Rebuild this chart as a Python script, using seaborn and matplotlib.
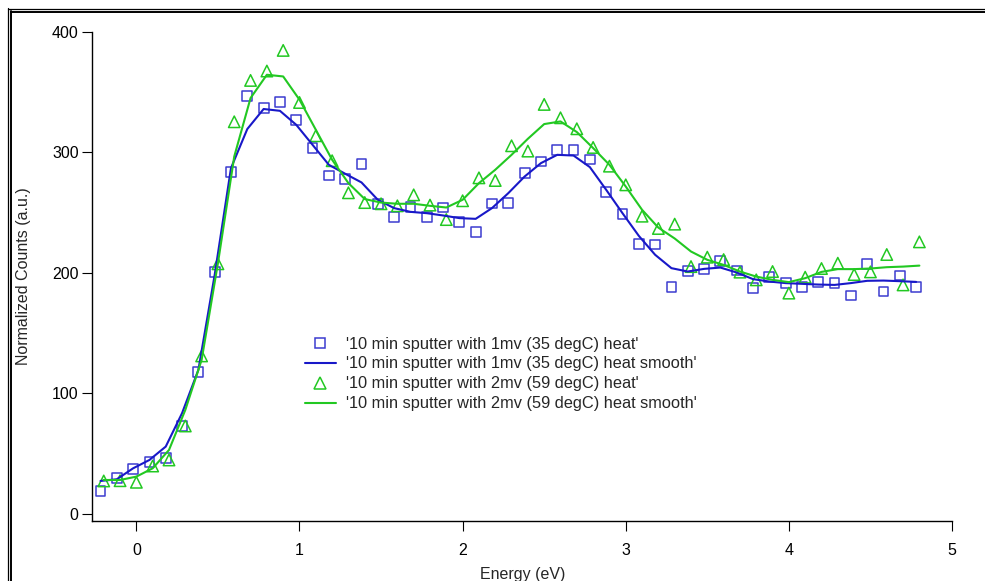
import matplotlib
matplotlib.use("Agg")
import matplotlib.pyplot as plt
from matplotlib.lines import Line2D
import seaborn as sns

# ---------------- data ----------------
energy_1mv = [-0.22, -0.12, -0.02, 0.08, 0.18, 0.28, 0.38, 0.48, 0.58, 0.68,
              0.78, 0.88, 0.98, 1.08, 1.18, 1.28, 1.38, 1.48, 1.58, 1.68,
              1.78, 1.88, 1.98, 2.08, 2.18, 2.28, 2.38, 2.48, 2.58, 2.68,
              2.78, 2.88, 2.98, 3.08, 3.18, 3.28, 3.38, 3.48, 3.58, 3.68,
              3.78, 3.88, 3.98, 4.08, 4.18, 4.28, 4.38, 4.48, 4.58, 4.68, 4.78]
counts_1mv = [19.3, 29.6, 37.1, 43.4, 46.5, 73.3, 117.8, 201, 283.8, 346.9,
              336.4, 341.7, 327, 303.5, 280.7, 278, 290.5, 257.3, 246.5, 254.8,
              246.5, 254.2, 242.1, 233.8, 257.5, 257.8, 282.7, 292.4, 302.1, 302.1,
              294, 267, 248.7, 224.1, 223.5, 188.4, 201.7, 203.3, 210, 201.9,
              187.3, 196.9, 191.5, 188.1, 192.3, 191.5, 181.2, 207.2, 184.5, 197.8, 188.6]
smooth_1mv = [27.4, 28.8, 37.9, 44.8, 55.9, 83.6, 119.5, 198.3, 286.9, 319.3,
              335.9, 334.4, 322.8, 306.2, 289.6, 282.2, 275, 260.6, 253.7, 250.6,
              249.5, 247.6, 245.4, 244.8, 253.7, 266.1, 279.9, 291, 297.9, 297.3,
              287.7, 268.9, 249.5, 230.7, 215, 203.9, 201.1, 203.3, 204.4, 200.3,
              194.8, 192.8, 191.5, 190.9, 190.3, 190, 191.5, 193.4, 193.6, 193.1, 192.5]

energy_2mv = [-0.20, -0.10, 0.00, 0.10, 0.20, 0.30, 0.40, 0.50, 0.60, 0.70,
              0.80, 0.90, 1.00, 1.10, 1.20, 1.30, 1.40, 1.50, 1.60, 1.70,
              1.80, 1.90, 2.00, 2.10, 2.20, 2.30, 2.40, 2.50, 2.60, 2.70,
              2.80, 2.90, 3.00, 3.10, 3.20, 3.30, 3.40, 3.50, 3.60, 3.70,
              3.80, 3.90, 4.00, 4.10, 4.20, 4.30, 4.40, 4.50, 4.60, 4.70, 4.80]
counts_2mv = [27.4, 27.6, 26.3, 39.8, 44.8, 73, 131.1, 207.5, 325.3, 359.6,
              367.4, 384.5, 341.3, 313.7, 293, 266.4, 258.3, 257.3, 255.6, 264.7,
              256.2, 244.2, 259.8, 278.8, 276.6, 305.4, 301, 339.7, 328.6, 319.5,
              304, 288.5, 273, 247, 236.8, 240.4, 205.2, 213, 211, 200.6,
              194.2, 201.1, 183.2, 196.4, 203.6, 208, 198.6, 200.8, 215.2, 190, 225.7]
smooth_2mv = [28.2, 28.2, 31, 37.9, 53.1, 86.3, 127.8, 208, 296.5, 345,
              364.3, 362.9, 343.6, 318.7, 293.8, 274.4, 261.2, 258.3, 257.3, 257.3,
              255.6, 254.2, 260.6, 274.4, 285.5, 297.9, 311.2, 323.4, 325.6, 316.8,
              303.5, 289.6, 271.6, 252.3, 237.5, 228.5, 217.7, 210.8, 206.6, 201.1,
              196.9, 194.2, 192.3, 195.6, 200.8, 203.1, 203.1, 203.6, 204.7, 205.2, 206]

labels = ["'10 min sputter with 1mv (35 degC) heat'",
          "'10 min sputter with 1mv (35 degC) heat smooth'",
          "'10 min sputter with 2mv (59 degC) heat'",
          "'10 min sputter with 2mv (59 degC) heat smooth'"]
x_ticks = [0, 1, 2, 3, 4, 5]
y_ticks = [0, 100, 200, 300, 400]

# ---------------- style ----------------
sns.set_style("white")
plt.rcParams['font.family'] = ['Liberation Sans', 'DejaVu Sans']
plt.rcParams['font.size'] = 11.5

blue_line = "#1818c8"
blue_mark = "#3c3cd0"
green = "#22c822"

fig = plt.figure(figsize=(9.85, 5.81), dpi=100)
ax = fig.add_axes([0.0939, 0.1033, 0.8726, 0.8421])

sns.scatterplot(x=energy_1mv, y=counts_1mv, ax=ax, marker='s', s=50,
                facecolor='none', edgecolor=blue_mark, linewidth=1.1, zorder=3)
sns.lineplot(x=energy_1mv, y=smooth_1mv, ax=ax, color=blue_line, linewidth=1.5,
             zorder=4, sort=False)
sns.scatterplot(x=energy_2mv, y=counts_2mv, ax=ax, marker='^', s=68,
                facecolor='none', edgecolor=green, linewidth=1.1, zorder=3)
sns.lineplot(x=energy_2mv, y=smooth_2mv, ax=ax, color=green, linewidth=1.5,
             zorder=4, sort=False)

ax.set_xlim(-0.269, 5.0)
ax.set_ylim(-5.8, 400)
ax.set_xticks(x_ticks)
ax.set_yticks(y_ticks)
ax.set_xticklabels([str(t) for t in x_ticks])
ax.set_yticklabels([str(t) for t in y_ticks])

for side in ['top', 'right']:
    ax.spines[side].set_visible(False)
for side in ['left', 'bottom']:
    ax.spines[side].set_linewidth(1.0)
    ax.spines[side].set_color('black')

ax.tick_params(axis='x', which='major', bottom=True, top=False, direction='out',
               length=7, width=0.8, pad=8.5, color='black', labelcolor='black',
               labelsize=11.5)
ax.tick_params(axis='y', which='major', left=True, right=False, direction='out',
               length=7, width=0.8, pad=3, color='black', labelcolor='black',
               labelsize=11.5)

ax.set_xlabel("Energy (eV)", fontsize=11.5, labelpad=7)
ax.set_ylabel("Normalized Counts (a.u.)", fontsize=11.5, labelpad=15)

handles = [
    Line2D([], [], linestyle='none', marker='s', markersize=7,
           markerfacecolor='none', markeredgecolor=blue_mark, markeredgewidth=1.1),
    Line2D([], [], color=blue_line, linewidth=1.5),
    Line2D([], [], linestyle='none', marker='^', markersize=8,
           markerfacecolor='none', markeredgecolor=green, markeredgewidth=1.1),
    Line2D([], [], color=green, linewidth=1.5),
]
ax.legend(handles, labels, loc='upper left', bbox_to_anchor=(0.247, 0.377),
          frameon=False, borderpad=0, borderaxespad=0, handlelength=1.9,
          handletextpad=0.6, labelspacing=0.3, fontsize=11.8)

# double frame around the figure (top and left visible)
W, H = 985.0, 581.0
for px, lw in [(7.5, 0.9), (11.0, 1.4)]:
    fig.add_artist(Line2D([px / W, px / W], [0, 1 - px / H], transform=fig.transFigure,
                          color='black', linewidth=lw))
    fig.add_artist(Line2D([px / W, 1], [1 - (px + 1) / H, 1 - (px + 1) / H],
                          transform=fig.transFigure, color='black', linewidth=lw))

fig.savefig("out.png", dpi=100)
